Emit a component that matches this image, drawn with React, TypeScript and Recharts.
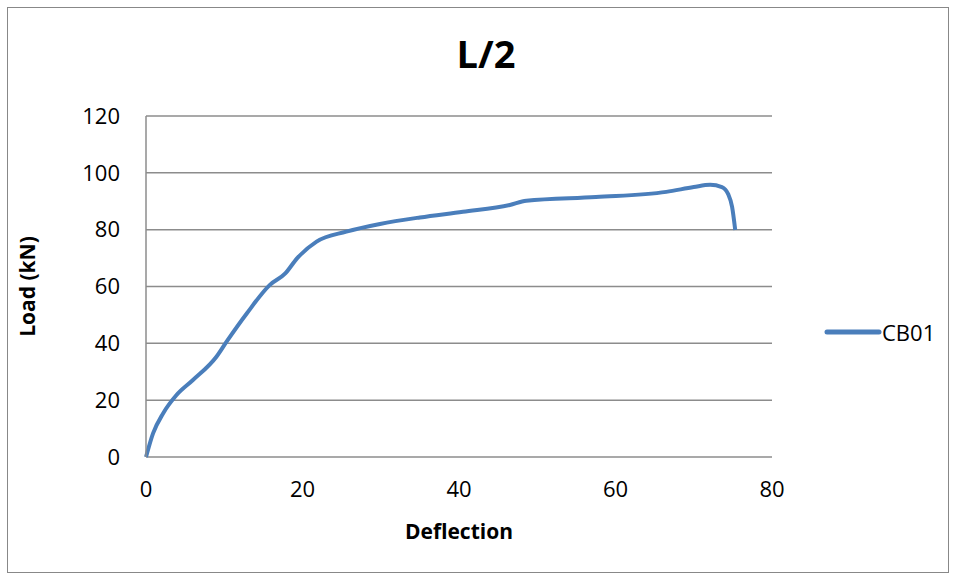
import { CartesianGrid, Label, Line, LineChart, XAxis, YAxis } from "recharts";

// Mid-span (L/2) load–deflection readings for beam CB01
const deflection = [0, 0.9, 2.2, 3.9, 6.0, 9.0, 10.3, 12.9, 15.8, 17.8, 19.3, 21.8, 25.6, 29.9, 35.0, 40.5, 46.5, 48.6, 57.5, 66.5, 70.0, 72.1, 73.6, 74.4, 74.9, 75.3];
const load = [0, 8.3, 15.4, 21.8, 27.1, 35.3, 40.6, 50.6, 60.5, 64.6, 69.9, 75.8, 79.3, 82.0, 84.3, 86.3, 88.7, 90.2, 91.5, 93.3, 95.0, 95.8, 95.0, 92.5, 88.0, 79.9];
const xTicks = [0, 20, 40, 60, 80];
const yTicks = [0, 20, 40, 60, 80, 100, 120];

const data = deflection.map((d, i) => ({ d, load: load[i] }));

const LINE_COLOR = "#4a7ebb";
const GRID_COLOR = "#8c8c8c";
const FONT = "'Open Sans', 'Liberation Sans', sans-serif";
const TICK = { fontSize: 22, fill: "#000", fontFamily: FONT };
const AXIS_TITLE = { fontSize: 21, fontWeight: "bold", fill: "#000", fontFamily: FONT };

export default function App() {
  return (
    <div style={{ position: "absolute", left: 0, top: 0, width: 956, height: 581, background: "#fff" }}>
      <div style={{ position: "absolute", left: 7, top: 7, width: 940, height: 564, border: "1px solid #888" }} />
      <div
        style={{
          position: "absolute",
          left: 386,
          top: 28,
          width: 200,
          textAlign: "center",
          fontFamily: FONT,
          fontWeight: "bold",
          fontSize: 38,
          lineHeight: "50px",
          color: "#000",
        }}
      >
        L/2
      </div>
      <LineChart
        width={956}
        height={581}
        data={data}
        margin={{ top: 116, right: 184, bottom: 42, left: 14 }}
        style={{ position: "absolute", left: 0, top: 0 }}
      >
        <CartesianGrid stroke={GRID_COLOR} strokeWidth={1.5} vertical={false} />
        <XAxis
          type="number"
          dataKey="d"
          domain={[0, 80]}
          ticks={xTicks}
          axisLine={false}
          tickLine={false}
          tickMargin={18}
          height={82}
          tick={TICK}
        >
          <Label value="Deflection" position="insideBottom" offset={0} style={AXIS_TITLE} />
        </XAxis>
        <YAxis
          type="number"
          domain={[0, 120]}
          ticks={yTicks}
          axisLine={{ stroke: GRID_COLOR, strokeWidth: 1.5 }}
          tickLine={false}
          tickMargin={20}
          width={132}
          tick={TICK}
        >
          <Label
            value="Load (kN)"
            angle={-90}
            position="insideLeft"
            offset={14}
            style={{ ...AXIS_TITLE, textAnchor: "middle" }}
          />
        </YAxis>
        <Line
          type="monotone"
          dataKey="load"
          stroke={LINE_COLOR}
          strokeWidth={4}
          dot={false}
          isAnimationActive={false}
        />
      </LineChart>
      {/* series key, right of the plot */}
      <div
        style={{
          position: "absolute",
          left: 823,
          top: 317,
          display: "flex",
          alignItems: "center",
          fontFamily: FONT,
          fontSize: 22,
          color: "#000",
        }}
      >
        <svg width={59} height={10}>
          <line x1={4} y1={5} x2={56} y2={5} stroke={LINE_COLOR} strokeWidth={5} strokeLinecap="round" />
        </svg>
        <span>CB01</span>
      </div>
    </div>
  );
}
